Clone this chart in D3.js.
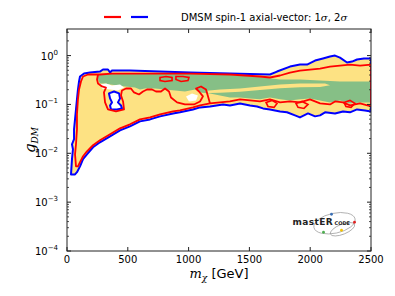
<!DOCTYPE html>
<html>
<head>
<meta charset="utf-8">
<script src="https://cdnjs.cloudflare.com/ajax/libs/d3/7.8.5/d3.min.js"></script>
<style>
	body { margin: 0; background: #fff; }
	svg { display: block; font-family: "DejaVu Sans", sans-serif; }
</style>
</head>
<body>
<div id="chart"></div>
<script>
	// all points are [m_chi in GeV, g_DM]
	var blue2sigma = [[33,0.0037],[41,0.0076],[49,0.0121],[41,0.0153],[58,0.0194],[58,0.031],[66,0.0494],[74,0.079],
		[82,0.127],[90,0.202],[99,0.295],[107,0.373],[140,0.429],[189,0.45],[271,0.471],[296,0.518],[337,0.518],
		[354,0.45],[370,0.494],[518,0.494],[765,0.471],[1012,0.45],[1340,0.429],[1669,0.41],[1727,0.471],
		[1834,0.596],[1916,0.655],[1974,0.655],[2040,0.79],[2105,0.87],[2163,0.954],[2204,1.0],[2245,0.91],
		[2303,0.72],[2344,0.754],[2385,0.83],[2442,0.87],[2500,0.87],[2500,0.072],[2451,0.0755],[2385,0.079],
		[2327,0.069],[2270,0.072],[2204,0.0655],[2122,0.069],[2081,0.0597],[2040,0.057],[1982,0.0655],
		[1916,0.0543],[1875,0.0597],[1809,0.069],[1752,0.072],[1669,0.079],[1612,0.0829],[1563,0.091],
		[1505,0.0954],[1423,0.105],[1340,0.0954],[1283,0.1],[1176,0.091],[1094,0.087],[1036,0.079],[929,0.069],
		[872,0.0655],[765,0.057],[683,0.0494],[600,0.045],[518,0.0356],[436,0.0295],[354,0.0222],[271,0.0168],
		[214,0.0133],[164,0.0095],[132,0.0076],[107,0.0054],[82,0.0041],[66,0.0037]];
	var red1sigma = [[74,0.0054],[66,0.0095],[74,0.0153],[82,0.031],[82,0.0626],[90,0.127],[99,0.202],[115,0.295],
		[132,0.373],[173,0.41],[271,0.41],[370,0.429],[765,0.429],[1012,0.429],[1340,0.41],[1587,0.373],
		[1669,0.356],[1752,0.391],[1834,0.45],[1916,0.494],[1998,0.518],[2081,0.543],[2163,0.596],[2245,0.625],
		[2327,0.655],[2410,0.625],[2500,0.655],[2500,0.091],[2410,0.105],[2327,0.0954],[2270,0.110],[2204,0.115],
		[2163,0.1],[2081,0.105],[1998,0.127],[1916,0.110],[1834,0.115],[1752,0.110],[1669,0.127],[1587,0.115],
		[1505,0.121],[1423,0.127],[1340,0.115],[1258,0.110],[1176,0.105],[1094,0.0954],[1036,0.087],[929,0.0755],
		[872,0.072],[765,0.0626],[683,0.0543],[600,0.0494],[518,0.0392],[436,0.0324],[354,0.0245],[271,0.0184],
		[214,0.0146],[164,0.011],[132,0.0087],[107,0.0066],[90,0.0054]];
	var redInner = [[255,0.41],[247,0.324],[255,0.268],[288,0.233],[321,0.222],[304,0.176],[313,0.110],[337,0.079],
		[403,0.072],[469,0.079],[461,0.115],[444,0.153],[452,0.193],[485,0.212],[526,0.212],[551,0.176],[592,0.16],
		[625,0.184],[658,0.202],[699,0.202],[732,0.184],[773,0.184],[806,0.212],[839,0.184],[855,0.139],[905,0.110],
		[970,0.1],[1044,0.1],[1094,0.115],[1118,0.146],[1086,0.184],[1061,0.212],[1102,0.233],[1143,0.202],
		[1160,0.146],[1176,0.105]];
	var redLoops = [
		[[765,0.356],[814,0.373],[864,0.356],[864,0.309],[806,0.295],[765,0.309]],
		[[896,0.373],[954,0.373],[1003,0.356],[995,0.309],[938,0.295],[896,0.324]],
		[[1637,0.110],[1686,0.121],[1727,0.105],[1703,0.087],[1653,0.091]],
		[[1883,0.105],[1933,0.115],[1982,0.1],[1949,0.0829],[1900,0.087]],
		[[2278,0.110],[2327,0.121],[2368,0.105],[2336,0.087],[2294,0.091]]
	];
	var blueHole = [[345,0.168],[387,0.184],[428,0.168],[436,0.133],[419,0.110],[444,0.0954],[452,0.0829],
		[411,0.079],[362,0.079],[354,0.0954],[370,0.110],[354,0.133]];
	var greenBand = [[255,0.40],[370,0.42],[765,0.42],[1012,0.42],[1340,0.40],[1587,0.365],[1669,0.345],
		[1752,0.324],[1916,0.324],[2081,0.309],[2245,0.295],[2410,0.295],[2500,0.295],[2500,0.110],[2410,0.110],
		[2327,0.105],[2245,0.121],[2163,0.110],[2081,0.121],[1998,0.133],[1916,0.127],[1834,0.121],[1752,0.127],
		[1669,0.139],[1587,0.127],[1505,0.133],[1423,0.139],[1340,0.139],[1258,0.153],[1176,0.168],[1094,0.176],
		[1053,0.202],[970,0.184],[888,0.193],[806,0.202],[724,0.212],[641,0.212],[600,0.202],[559,0.222],
		[477,0.233],[419,0.244],[354,0.256],[313,0.268],[271,0.268],[255,0.324]];
	var yellowStripe = [[1151,0.19],[1258,0.202],[1423,0.212],[1587,0.233],[1752,0.256],[1916,0.268],[2122,0.268],
		[2163,0.248],[2081,0.228],[1916,0.226],[1752,0.215],[1587,0.198],[1423,0.182],[1258,0.174],[1160,0.172]];
	var whiteSpots = [
		[[271,0.256],[321,0.268],[370,0.244],[436,0.256],[469,0.222],[419,0.193],[354,0.202],[288,0.212]],
		[[979,0.146],[1028,0.168],[1077,0.153],[1061,0.121],[1003,0.115]]
	];
	var xTicks = [0, 500, 1000, 1500, 2000, 2500];
	var yTicks = [1e-4, 1e-3, 1e-2, 1e-1, 1];
	var yTickExp = ["\u22124", "\u22123", "\u22122", "\u22121", "0"];

	var margin = {top: 29, right: 24, bottom: 45, left: 67},
		width = 395 - margin.left - margin.right,
		height = 296 - margin.top - margin.bottom;

	var x = d3.scaleLinear().domain([0, 2500]).range([0, width]);
	var y = d3.scaleLog().domain([1e-4, 3.5]).range([height, 0]);

	var svg = d3.select("#chart").append("svg")
		.attr("width", 395).attr("height", 296);
	var g = svg.append("g")
		.attr("transform", "translate(" + margin.left + "," + margin.top + ")");

	g.append("defs").append("clipPath").attr("id", "clip")
		.append("rect").attr("width", width).attr("height", height);

	var line = d3.line().x(function(d) { return x(d[0]); }).y(function(d) { return y(d[1]); });
	var closedPath = function(pts) { return line(pts) + "Z"; };

	var plot = g.append("g").attr("clip-path", "url(#clip)");

	var yellow = "#fde283", green = "#86bf86";

	plot.append("path").attr("d", closedPath(blue2sigma)).attr("fill", yellow);
	plot.append("path").attr("d", closedPath(greenBand)).attr("fill", green);
	plot.append("path").attr("d", closedPath(yellowStripe)).attr("fill", yellow);
	whiteSpots.forEach(function(s) {
		plot.append("path").attr("d", closedPath(s)).attr("fill", "#fff");
	});
	plot.append("path").attr("d", closedPath(blueHole)).attr("fill", "#fff");

	plot.append("path").attr("d", closedPath(blue2sigma))
		.attr("fill", "none").attr("stroke", "#0000ff").attr("stroke-width", 2).attr("stroke-linejoin", "round");
	plot.append("path").attr("d", closedPath(blueHole))
		.attr("fill", "none").attr("stroke", "#0000ff").attr("stroke-width", 2).attr("stroke-linejoin", "round");
	plot.append("path").attr("d", closedPath(red1sigma))
		.attr("fill", "none").attr("stroke", "#ff0000").attr("stroke-width", 1.8).attr("stroke-linejoin", "round");
	plot.append("path").attr("d", line(redInner))
		.attr("fill", "none").attr("stroke", "#ff0000").attr("stroke-width", 1.8).attr("stroke-linejoin", "round");
	redLoops.forEach(function(s) {
		plot.append("path").attr("d", closedPath(s))
			.attr("fill", "none").attr("stroke", "#ff0000").attr("stroke-width", 1.6);
	});

	// frame
	g.append("rect").attr("width", width).attr("height", height)
		.attr("fill", "none").attr("stroke", "#222").attr("stroke-width", 1);

	// x ticks, inward, bottom and top
	g.selectAll(null).data(xTicks).enter().append("line")
		.attr("x1", function(d) { return x(d); }).attr("x2", function(d) { return x(d); })
		.attr("y1", height).attr("y2", height - 4).attr("stroke", "#222");
	g.selectAll(null).data(xTicks).enter().append("line")
		.attr("x1", function(d) { return x(d); }).attr("x2", function(d) { return x(d); })
		.attr("y1", 0).attr("y2", 4).attr("stroke", "#222");
	g.selectAll(null).data(xTicks).enter().append("text")
		.attr("x", function(d) { return x(d); }).attr("y", height + 12)
		.attr("text-anchor", "middle").attr("font-size", 10).text(function(d) { return d; });

	// y ticks, majors and minors
	var minors = [];
	for (var e = -4; e <= 0; e++) {
		for (var k = 2; k <= 9; k++) {
			var v = k * Math.pow(10, e);
			if (v <= 3.5) minors.push(v);
		}
	}
	[0, width].forEach(function(x0) {
		var dir = x0 == 0 ? 1 : -1;
		g.selectAll(null).data(yTicks).enter().append("line")
			.attr("x1", x0).attr("x2", x0 + dir * 4)
			.attr("y1", function(d) { return y(d); }).attr("y2", function(d) { return y(d); })
			.attr("stroke", "#222");
		g.selectAll(null).data(minors).enter().append("line")
			.attr("x1", x0).attr("x2", x0 + dir * 2)
			.attr("y1", function(d) { return y(d); }).attr("y2", function(d) { return y(d); })
			.attr("stroke", "#222").attr("stroke-width", 0.8);
	});
	var yl = g.selectAll(null).data(yTicks).enter().append("text")
		.attr("x", -9).attr("y", function(d) { return y(d) + 4; })
		.attr("text-anchor", "end").attr("font-size", 10);
	yl.append("tspan").text("10");
	yl.append("tspan").attr("font-size", 7).attr("dy", -5)
		.text(function(d, i) { return yTickExp[i]; });

	// axis labels
	var xlab = g.append("text").attr("x", width / 2).attr("y", height + 27)
		.attr("text-anchor", "middle").attr("font-size", 13);
	xlab.append("tspan").attr("font-family", "DejaVu Serif").attr("font-style", "italic").text("m");
	xlab.append("tspan").attr("font-family", "DejaVu Serif").attr("font-style", "italic")
		.attr("font-size", 9).attr("dy", 3).text("\u03c7");
	xlab.append("tspan").attr("dy", -3).text(" [GeV]");

	var ylab = g.append("text")
		.attr("transform", "translate(" + (-32) + "," + (height / 2) + ") rotate(-90)")
		.attr("text-anchor", "middle").attr("font-size", 15)
		.attr("font-family", "DejaVu Serif").attr("font-style", "italic");
	ylab.append("tspan").text("g");
	ylab.append("tspan").attr("font-size", 9).attr("dy", 3).text("DM");

	// legend
	var leg = svg.append("g");
	leg.append("line").attr("x1", 104).attr("x2", 121).attr("y1", 17).attr("y2", 17)
		.attr("stroke", "#ff0000").attr("stroke-width", 2.2);
	leg.append("line").attr("x1", 131).attr("x2", 148).attr("y1", 17).attr("y2", 17)
		.attr("stroke", "#0000ff").attr("stroke-width", 2.2);
	var lt = leg.append("text").attr("x", 181).attr("y", 21).attr("font-size", 10);
	lt.append("tspan").text("DMSM spin-1 axial-vector: 1");
	lt.append("tspan").attr("font-family", "DejaVu Serif").attr("font-style", "italic").text("\u03c3");
	lt.append("tspan").text(", 2");
	lt.append("tspan").attr("font-family", "DejaVu Serif").attr("font-style", "italic").text("\u03c3");

	// mastercode logo
	var logo = g.append("g")
		.attr("transform", "translate(" + x(2200) + "," + y(3.7e-4) + ")");
	logo.append("ellipse").attr("cx", 0).attr("cy", 0).attr("rx", 21).attr("ry", 10)
		.attr("transform", "rotate(-12)").attr("fill", "none").attr("stroke", "#999").attr("stroke-width", 0.7);
	logo.append("ellipse").attr("cx", 8).attr("cy", 6).attr("rx", 13).attr("ry", 5)
		.attr("transform", "rotate(-22 8 6)").attr("fill", "none").attr("stroke", "#999").attr("stroke-width", 0.7);
	logo.append("text").attr("x", -42).attr("y", 2).attr("font-size", 9).attr("font-weight", "bold")
		.attr("fill", "#222").attr("letter-spacing", 0.4).text("mastER");
	logo.append("text").attr("x", 0).attr("y", 2).attr("font-size", 5).attr("font-weight", "bold")
		.attr("fill", "#222").text("CODE");
	[[-3, -9, "#3a6fb5"], [20, -1, "#e02020"], [7, 7, "#f5c400"], [-11, 9, "#4caf50"]].forEach(function(p) {
		logo.append("circle").attr("cx", p[0]).attr("cy", p[1]).attr("r", 1.4).attr("fill", p[2]);
	});
</script>
</body>
</html>
